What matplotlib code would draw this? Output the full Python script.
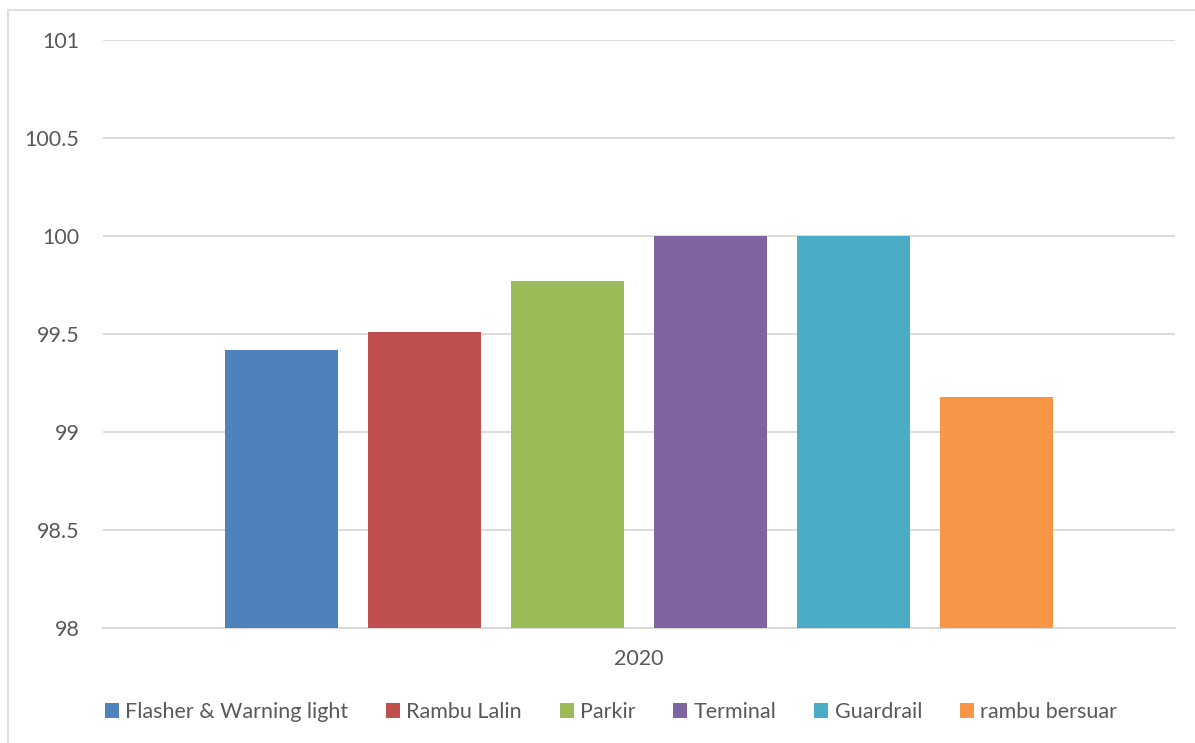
import matplotlib
matplotlib.use('Agg')
import matplotlib.pyplot as plt
from matplotlib.patches import Rectangle

plt.rcParams['font.family'] = ['Lato', 'DejaVu Sans']

# data
categories = ['Flasher & Warning light', 'Rambu Lalin', 'Parkir', 'Terminal', 'Guardrail', 'rambu bersuar']
values = [99.42, 99.51, 99.77, 100.0, 100.0, 99.18]
colors = ['#4F81BD', '#C0504D', '#9BBB59', '#8064A2', '#4BACC6', '#F79646']
yticks = [98, 98.5, 99, 99.5, 100, 100.5, 101]
ytick_labels = ['98', '98.5', '99', '99.5', '100', '100.5', '101']
group_label = '2020'

text_col = '#595959'
grid_col = '#D9D9D9'

fig = plt.figure(figsize=(11.95, 7.43), dpi=100)
ax = fig.add_axes([0.0862, 0.1548, 0.8971, 0.7914])

# outer chart frame
fig.patches.append(Rectangle((8 / 1195, -0.01), 1.1, 1 - 10 / 743 + 0.01,
                             transform=fig.transFigure, fill=False,
                             edgecolor=grid_col, linewidth=1.2))

for i, (c, v, col) in enumerate(zip(categories, values, colors)):
    ax.bar(i, v - 98, bottom=98, width=0.79, color=col, label=c, zorder=3)

ax.set_ylim(98, 101)
ax.set_xlim(-1.248, len(categories) - 1 + 1.248)
ax.set_yticks(yticks)
ax.set_yticklabels(ytick_labels)
ax.set_xticks([(len(categories) - 1) / 2])
ax.set_xticklabels([group_label])
ax.tick_params(axis='both', length=0, labelsize=15.5, colors=text_col)
ax.tick_params(axis='y', pad=17)
ax.tick_params(axis='x', pad=15)
ax.grid(axis='y', color=grid_col, linewidth=1.3, zorder=0)
for s in ['top', 'right', 'left']:
    ax.spines[s].set_visible(False)
ax.spines['bottom'].set_color(grid_col)
ax.spines['bottom'].set_linewidth(1.5)

leg = fig.legend(loc='center', bbox_to_anchor=(611 / 1195, 1 - 712 / 743), ncol=6,
                 frameon=False, fontsize=15.5, handlelength=0.65, handleheight=0.65,
                 handletextpad=0.3, columnspacing=1.75)
for t in leg.get_texts():
    t.set_color(text_col)

fig.savefig('out.png', dpi=100)
